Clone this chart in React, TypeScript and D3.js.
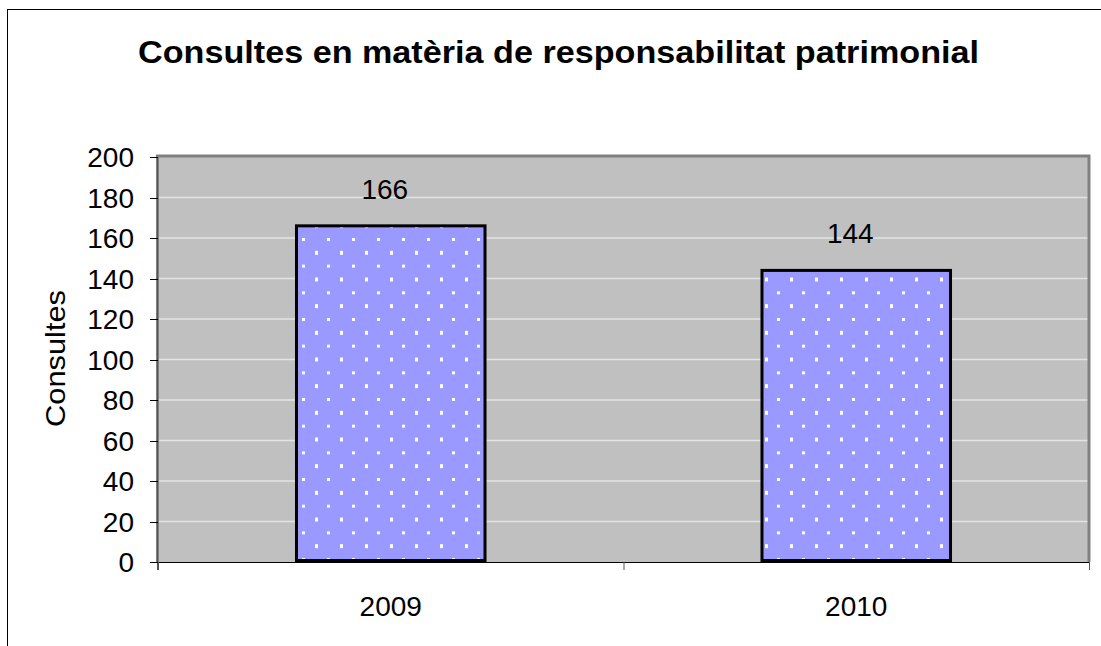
import { scaleBand, scaleLinear } from 'd3';

const categories = ['2009', '2010'];
const values = [166, 144];
const yTicks = [0, 20, 40, 60, 80, 100, 120, 140, 160, 180, 200];

const width = 1101;
const height = 646;
const plot = { left: 158, right: 1089, top: 157, bottom: 562 };
const font = 'Liberation Sans, Arial, sans-serif';

const x = scaleBand<string>().domain(categories).range([plot.left, plot.right]);
const y = scaleLinear().domain([0, 200]).range([plot.bottom, plot.top]);
const barW = x.bandwidth() * 0.405;

const App = () => {
  return (
    <svg width={width} height={height} style={{ position: 'absolute', left: 0, top: 0, background: '#fff' }}>
      <defs>
        <pattern id="dots" patternUnits="userSpaceOnUse" x={302} y={238} width={25} height={26.67}>
          <rect width={25} height={26.67} fill="#9999FF" />
          <rect x={0} y={0} width={3} height={3} fill="#fff" shapeRendering="crispEdges" />
          <rect x={12.5} y={13.33} width={3} height={3} fill="#fff" shapeRendering="crispEdges" />
        </pattern>
      </defs>
      {/* outer chart frame */}
      <rect x={7.5} y={9.5} width={1200} height={800} fill="none" stroke="#000" strokeWidth={1} />

      <text x={558.5} y={63} textAnchor="middle" fontFamily={font} fontWeight="bold" fontSize={31}
        textLength={841} lengthAdjust="spacingAndGlyphs" fill="#000">
        Consultes en matèria de responsabilitat patrimonial
      </text>

      {/* plot area */}
      <rect x={plot.left} y={plot.top} width={plot.right - plot.left} height={plot.bottom - plot.top} fill="#C0C0C0" />
      {yTicks.filter(t => t > 0 && t < 200).map(t => (
        <line key={t} x1={plot.left} x2={plot.right} y1={y(t)} y2={y(t)} stroke="#E4E4E4" strokeWidth={1.5} />
      ))}
      <path
        d={`M${plot.left - 0.5},${plot.bottom} V${plot.top - 1} H${plot.right} V${plot.bottom}`}
        fill="none" stroke="#808080" strokeWidth={3}
      />

      {/* bars */}
      {categories.map((c, i) => {
        const cx = (x(c) ?? 0) + x.bandwidth() / 2;
        return (
          <g key={c}>
            <rect x={cx - barW / 2} y={y(values[i])} width={barW} height={y(0) - y(values[i]) - 1.5}
              fill="url(#dots)" stroke="#000" strokeWidth={3} />
            <text x={cx - 6} y={y(values[i]) - 27} textAnchor="middle" fontFamily={font} fontSize={28} fill="#000">
              {values[i]}
            </text>
          </g>
        );
      })}

      {/* axes */}
      <line x1={plot.left} x2={plot.right + 1} y1={plot.bottom + 0.5} y2={plot.bottom + 0.5} stroke="#000" strokeWidth={1} />
      <line x1={plot.left - 0.5} x2={plot.left - 0.5} y1={plot.top} y2={plot.bottom + 8} stroke="#555" strokeWidth={1} />
      {yTicks.map(t => (
        <g key={t}>
          <line x1={plot.left - 8} x2={plot.left} y1={Math.round(y(t)) + 0.5} y2={Math.round(y(t)) + 0.5} stroke="#000" strokeWidth={1} />
          <text x={134} y={y(t) + 10} textAnchor="end" fontFamily={font} fontSize={28} fill="#000">{t}</text>
        </g>
      ))}
      {[plot.left, plot.left + x.step(), plot.right].map((tx, i) => (
        <line key={i} x1={tx + 0.5} x2={tx + 0.5} y1={plot.bottom} y2={plot.bottom + 8} stroke="#555" strokeWidth={1} />
      ))}
      {categories.map(c => (
        <text key={c} x={(x(c) ?? 0) + x.bandwidth() / 2} y={616} textAnchor="middle" fontFamily={font} fontSize={28} fill="#000">
          {c}
        </text>
      ))}
      <text transform="translate(65,358.5) rotate(-90)" textAnchor="middle" fontFamily={font} fontSize={28}
        textLength={137} lengthAdjust="spacingAndGlyphs" fill="#000">
        Consultes
      </text>
    </svg>
  );
};

export default App;
